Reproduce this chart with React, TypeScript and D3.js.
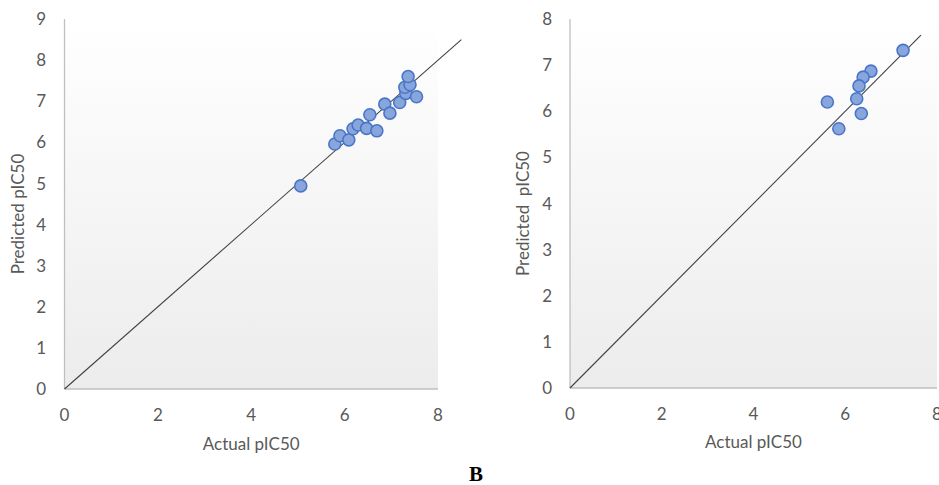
import React from "react";
import * as d3 from "d3";

// Left panel (training set)
const leftActual = [5.06, 5.79, 5.90, 6.09, 6.18, 6.29, 6.47, 6.54, 6.69, 6.86, 6.97, 7.18, 7.31, 7.29, 7.40, 7.36, 7.54];
const leftPredicted = [4.94, 5.96, 6.16, 6.06, 6.33, 6.42, 6.34, 6.67, 6.28, 6.93, 6.71, 6.97, 7.19, 7.34, 7.40, 7.60, 7.11];
const leftXTicks = [0, 2, 4, 6, 8];
const leftYTicks = [0, 1, 2, 3, 4, 5, 6, 7, 8, 9];
const leftLineEnd = 8.5;

// Right panel (test set)
const rightActual = [7.26, 6.56, 6.39, 6.30, 6.25, 5.61, 6.35, 5.86];
const rightPredicted = [7.32, 6.87, 6.74, 6.55, 6.27, 6.20, 5.95, 5.62];
const rightXTicks = [0, 2, 4, 6, 8];
const rightYTicks = [0, 1, 2, 3, 4, 5, 6, 7, 8];
const rightLineEnd = 7.65;

const xTitle = "Actual pIC50";
const leftYTitle = "Predicted pIC50";
const rightYTitle = "Predicted  pIC50";
const panelLabel = "B";

const FONT = "Lato, 'Open Sans', sans-serif";
const TEXT = "#595959";
const FS = 17;

type PanelProps = {
  id: string;
  x0: number; x1: number; y0: number; y1: number;
  xMax: number; yMax: number;
  xs: number[]; ys: number[];
  xTicks: number[]; yTicks: number[];
  lineEnd: number;
  yTitle: string;
  yTitleX: number;
  yTickRight: number;
  xTickY: number;
  xTitleY: number;
};

function Panel(p: PanelProps) {
  const x = d3.scaleLinear().domain([0, p.xMax]).range([p.x0, p.x1]);
  const y = d3.scaleLinear().domain([0, p.yMax]).range([p.y0, p.y1]);
  const line = d3.line<number>().x((d) => x(d)).y((d) => y(d));
  const gid = `grad-${p.id}`;
  return (
    <g>
      <defs>
        <linearGradient id={gid} x1="0" y1="0" x2="0" y2="1">
          <stop offset="0%" stopColor="#ffffff" />
          <stop offset="100%" stopColor="#ececec" />
        </linearGradient>
      </defs>
      <rect x={p.x0} y={p.y1} width={p.x1 - p.x0} height={p.y0 - p.y1} fill={`url(#${gid})`} />
      <line x1={p.x0} x2={p.x0} y1={p.y0} y2={p.y1} stroke="#bfbfbf" strokeWidth={1.3} />
      <line x1={p.x0} x2={p.x1} y1={p.y0} y2={p.y0} stroke="#bfbfbf" strokeWidth={1.3} />
      {p.yTicks.map((t) => (
        <text key={`y${t}`} x={p.yTickRight} y={y(t)} dy="0.36em" textAnchor="end" fontFamily={FONT} fontSize={FS} fill={TEXT}>{t}</text>
      ))}
      {p.xTicks.map((t) => (
        <text key={`x${t}`} x={x(t)} y={p.xTickY} dy="0.36em" textAnchor="middle" fontFamily={FONT} fontSize={FS} fill={TEXT}>{t}</text>
      ))}
      <path d={line([0, p.lineEnd]) || ""} stroke="#404040" strokeWidth={1.1} fill="none" />
      {p.xs.map((v, i) => (
        <circle key={i} cx={x(v)} cy={y(p.ys[i])} r={6} fill="#89a6dc" stroke="#4a76c8" strokeWidth={1.6} />
      ))}
      <text x={(p.x0 + p.x1) / 2} y={p.xTitleY} dy="0.36em" textAnchor="middle" fontFamily={FONT} fontSize={FS} fill={TEXT}>{xTitle}</text>
      <text transform={`translate(${p.yTitleX},${(p.y0 + p.y1) / 2 + 10}) rotate(-90)`} dy="0.36em" textAnchor="middle" fontFamily={FONT} fontSize={FS} fill={TEXT} style={{ whiteSpace: "pre" }}>{p.yTitle}</text>
    </g>
  );
}

export default function App() {
  return (
    <svg width={939} height={485} style={{ position: "absolute", left: 0, top: 0, background: "#fff" }}>
      <Panel id="l" x0={64.5} x1={438} y0={389} y1={19} xMax={8} yMax={9}
        xs={leftActual} ys={leftPredicted} xTicks={leftXTicks} yTicks={leftYTicks}
        lineEnd={leftLineEnd} yTitle={leftYTitle} yTitleX={18} yTickRight={46}
        xTickY={415} xTitleY={444} />
      <Panel id="r" x0={570} x1={937} y0={388} y1={19} xMax={8} yMax={8}
        xs={rightActual} ys={rightPredicted} xTicks={rightXTicks} yTicks={rightYTicks}
        lineEnd={rightLineEnd} yTitle={rightYTitle} yTitleX={523} yTickRight={552}
        xTickY={414} xTitleY={442} />
      <text x={476} y={481} textAnchor="middle" fontFamily="'Liberation Serif', 'Times New Roman', serif" fontWeight="bold" fontSize={21} fill="#000">{panelLabel}</text>
    </svg>
  );
}
